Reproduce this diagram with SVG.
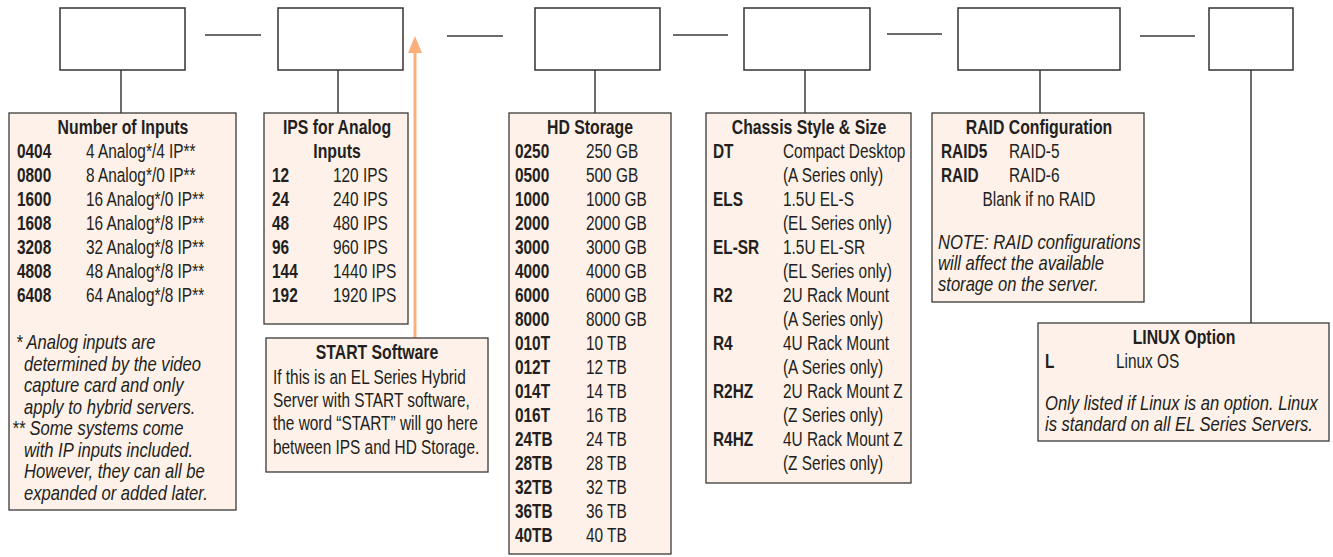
<svg xmlns="http://www.w3.org/2000/svg" width="1333" height="557" viewBox="0 0 1333 557">
<defs>
<style>
.top{fill:#fff;stroke:#333;stroke-width:1.5}
.info{fill:#fdf1e9;stroke:#3a3a3a;stroke-width:1.3}
.ln{stroke:#3a3a3a;stroke-width:1.5;fill:none}
text{font-family:"Liberation Sans",Arial,sans-serif;font-size:19.5px;fill:#231f20;transform-box:fill-box;transform-origin:0 0;transform:scaleX(.79)}
.t{font-weight:bold;font-size:20px;text-anchor:middle;transform-origin:50% 0}
.b{font-weight:bold}
.i{font-style:italic;font-size:20px;transform:scaleX(.83)}
.c{text-anchor:middle;transform-origin:50% 0}
</style>
</defs>
<g id="connectors">
<line class="ln" x1="205" y1="35" x2="261" y2="35"/>
<line class="ln" x1="447" y1="36" x2="503" y2="36"/>
<line class="ln" x1="673" y1="35" x2="728" y2="35"/>
<line class="ln" x1="887" y1="34" x2="942" y2="34"/>
<line class="ln" x1="1140" y1="36" x2="1195" y2="36"/>
<line class="ln" x1="121" y1="70" x2="121" y2="113"/>
<line class="ln" x1="338" y1="70" x2="338" y2="113"/>
<line class="ln" x1="595" y1="70" x2="595" y2="113"/>
<line class="ln" x1="805" y1="70" x2="805" y2="113"/>
<line class="ln" x1="1040" y1="70" x2="1040" y2="113"/>
<line class="ln" x1="1251" y1="70" x2="1251" y2="323"/>
<line x1="415" y1="338" x2="415" y2="52" stroke="#fbb07c" stroke-width="3"/>
<polygon points="415,36 422,53 408,53" fill="#fbb07c"/>
</g>
<g id="slot1"><rect class="top" x="60" y="8" width="125" height="62"/></g>
<g id="slot2"><rect class="top" x="278" y="8" width="125" height="62"/></g>
<g id="slot3"><rect class="top" x="535" y="8" width="125" height="62"/></g>
<g id="slot4"><rect class="top" x="744" y="8" width="126" height="62"/></g>
<g id="slot5"><rect class="top" x="958" y="8" width="162" height="62"/></g>
<g id="slot6"><rect class="top" x="1209" y="8" width="84" height="62"/></g>

<g id="inputs">
<rect class="info" x="9" y="113" width="227" height="397"/>
<text class="t" x="123" y="134">Number of Inputs</text>
<text class="b" x="17" y="158">0404</text><text x="86" y="158">4 Analog*/4 IP**</text>
<text class="b" x="17" y="182">0800</text><text x="86" y="182">8 Analog*/0 IP**</text>
<text class="b" x="17" y="206">1600</text><text x="86" y="206">16 Analog*/0 IP**</text>
<text class="b" x="17" y="230">1608</text><text x="86" y="230">16 Analog*/8 IP**</text>
<text class="b" x="17" y="254">3208</text><text x="86" y="254">32 Analog*/8 IP**</text>
<text class="b" x="17" y="278">4808</text><text x="86" y="278">48 Analog*/8 IP**</text>
<text class="b" x="17" y="302">6408</text><text x="86" y="302">64 Analog*/8 IP**</text>
<text class="i" x="16" y="349">* Analog inputs are</text>
<text class="i" x="24" y="371">determined by the video</text>
<text class="i" x="24" y="392">capture card and only</text>
<text class="i" x="24" y="414">apply to hybrid servers.</text>
<text class="i" x="12" y="435">** Some systems come</text>
<text class="i" x="24" y="457">with IP inputs included.</text>
<text class="i" x="24" y="478">However, they can all be</text>
<text class="i" x="24" y="500">expanded or added later.</text>
</g>

<g id="ips">
<rect class="info" x="264" y="113" width="144" height="211"/>
<text class="t" x="337" y="134">IPS for Analog</text>
<text class="t" x="337" y="158">Inputs</text>
<text class="b" x="272" y="182">12</text><text x="333" y="182">120 IPS</text>
<text class="b" x="272" y="206">24</text><text x="333" y="206">240 IPS</text>
<text class="b" x="272" y="230">48</text><text x="333" y="230">480 IPS</text>
<text class="b" x="272" y="254">96</text><text x="333" y="254">960 IPS</text>
<text class="b" x="272" y="278">144</text><text x="333" y="278">1440 IPS</text>
<text class="b" x="272" y="302">192</text><text x="333" y="302">1920 IPS</text>
</g>

<g id="start">
<rect class="info" x="266" y="338" width="222" height="134"/>
<text class="t" x="377" y="359">START Software</text>
<text x="273" y="384">If this is an EL Series Hybrid</text>
<text x="273" y="407">Server with START software,</text>
<text x="273" y="430">the word “START” will go here</text>
<text x="273" y="454">between IPS and HD Storage.</text>
</g>

<g id="hd">
<rect class="info" x="509" y="113" width="162" height="441"/>
<text class="t" x="590" y="134">HD Storage</text>
<text class="b" x="515" y="158">0250</text><text x="586" y="158">250 GB</text>
<text class="b" x="515" y="182">0500</text><text x="586" y="182">500 GB</text>
<text class="b" x="515" y="206">1000</text><text x="586" y="206">1000 GB</text>
<text class="b" x="515" y="230">2000</text><text x="586" y="230">2000 GB</text>
<text class="b" x="515" y="254">3000</text><text x="586" y="254">3000 GB</text>
<text class="b" x="515" y="278">4000</text><text x="586" y="278">4000 GB</text>
<text class="b" x="515" y="302">6000</text><text x="586" y="302">6000 GB</text>
<text class="b" x="515" y="326">8000</text><text x="586" y="326">8000 GB</text>
<text class="b" x="515" y="350">010T</text><text x="586" y="350">10 TB</text>
<text class="b" x="515" y="374">012T</text><text x="586" y="374">12 TB</text>
<text class="b" x="515" y="398">014T</text><text x="586" y="398">14 TB</text>
<text class="b" x="515" y="422">016T</text><text x="586" y="422">16 TB</text>
<text class="b" x="515" y="446">24TB</text><text x="586" y="446">24 TB</text>
<text class="b" x="515" y="470">28TB</text><text x="586" y="470">28 TB</text>
<text class="b" x="515" y="494">32TB</text><text x="586" y="494">32 TB</text>
<text class="b" x="515" y="518">36TB</text><text x="586" y="518">36 TB</text>
<text class="b" x="515" y="542">40TB</text><text x="586" y="542">40 TB</text>
</g>

<g id="chassis">
<rect class="info" x="706" y="113" width="205" height="370"/>
<text class="t" x="809" y="134">Chassis Style &amp; Size</text>
<text class="b" x="713" y="158">DT</text><text x="783" y="158">Compact Desktop</text>
<text x="783" y="182">(A Series only)</text>
<text class="b" x="713" y="206">ELS</text><text x="783" y="206">1.5U EL-S</text>
<text x="783" y="230">(EL Series only)</text>
<text class="b" x="713" y="254">EL-SR</text><text x="783" y="254">1.5U EL-SR</text>
<text x="783" y="278">(EL Series only)</text>
<text class="b" x="713" y="302">R2</text><text x="783" y="302">2U Rack Mount</text>
<text x="783" y="326">(A Series only)</text>
<text class="b" x="713" y="350">R4</text><text x="783" y="350">4U Rack Mount</text>
<text x="783" y="374">(A Series only)</text>
<text class="b" x="713" y="398">R2HZ</text><text x="783" y="398">2U Rack Mount Z</text>
<text x="783" y="422">(Z Series only)</text>
<text class="b" x="713" y="446">R4HZ</text><text x="783" y="446">4U Rack Mount Z</text>
<text x="783" y="470">(Z Series only)</text>
</g>

<g id="raid">
<rect class="info" x="932" y="113" width="212" height="189"/>
<text class="t" x="1039" y="134">RAID Configuration</text>
<text class="b" x="941" y="158">RAID5</text><text x="1009" y="158">RAID-5</text>
<text class="b" x="941" y="182">RAID</text><text x="1009" y="182">RAID-6</text>
<text class="c" x="1039" y="206">Blank if no RAID</text>
<text class="i" x="938" y="249">NOTE: RAID configurations</text>
<text class="i" x="938" y="270">will affect the available</text>
<text class="i" x="938" y="291">storage on the server.</text>
</g>

<g id="linux">
<rect class="info" x="1038" y="323" width="291" height="118"/>
<text class="t" x="1184" y="344">LINUX Option</text>
<text class="b" x="1045" y="368">L</text><text x="1116" y="368">Linux OS</text>
<text class="i" x="1045" y="410">Only listed if Linux is an option. Linux</text>
<text class="i" x="1045" y="431">is standard on all EL Series Servers.</text>
</g>
</svg>
